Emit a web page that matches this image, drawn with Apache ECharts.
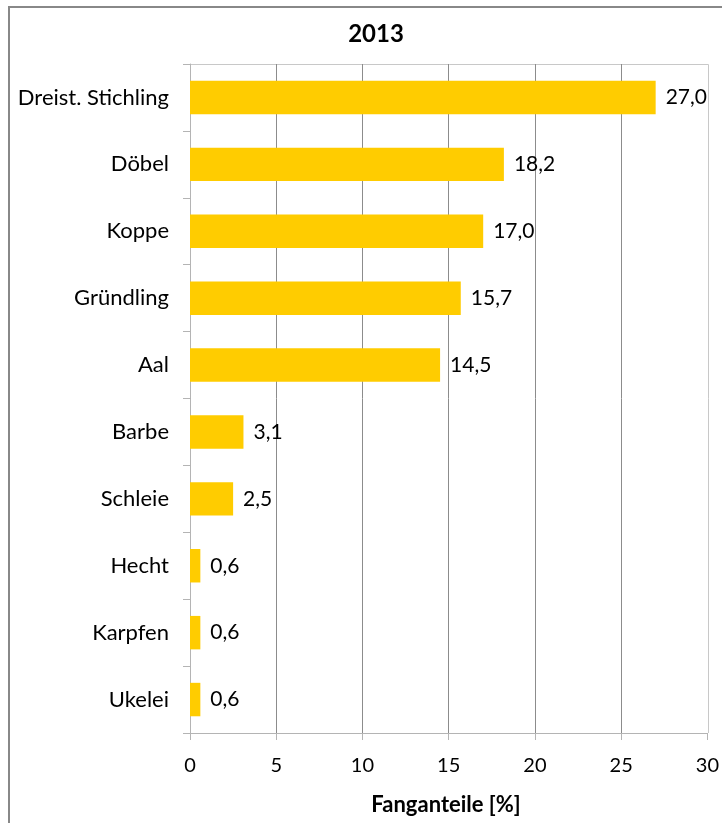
<!DOCTYPE html>
<html>
<head>
<meta charset="utf-8">
<script src="https://cdn.jsdelivr.net/npm/echarts@6/dist/echarts.min.js"></script>
<style>
  html, body { margin: 0; padding: 0; background: #ffffff; }
  #chart { width: 722px; height: 823px; }
</style>
</head>
<body>
<div id="chart"></div>
<script>
// Fish species and their share of the catch in 2013 (percent)
const categories = ['Dreist. Stichling', 'Döbel', 'Koppe', 'Gründling', 'Aal', 'Barbe', 'Schleie', 'Hecht', 'Karpfen', 'Ukelei'];
const shares = [27.0, 18.2, 17.0, 15.7, 14.5, 3.1, 2.5, 0.6, 0.6, 0.6];
const xTicks = [0, 5, 10, 15, 20, 25, 30];

const fontFamily = 'Lato, "Open Sans", sans-serif';
const chart = echarts.init(document.getElementById('chart'), null, { renderer: 'canvas' });

chart.setOption({
  backgroundColor: '#ffffff',
  animation: false,
  title: {
    text: '2013',
    left: 371,
    top: 17,
    textAlign: 'center',
    textStyle: { fontFamily, fontSize: 24, fontWeight: 'bold', color: '#000000' }
  },
  graphic: [{
    // outer frame
    type: 'rect',
    shape: { x: 9, y: 7, width: 740, height: 840 },
    style: { fill: 'none', stroke: '#888888', lineWidth: 2 },
    silent: true
  }, {
    // plot area border (top and right)
    type: 'polyline',
    shape: { points: [[190, 64.5], [708.5, 64.5], [708.5, 733]] },
    style: { fill: 'none', stroke: '#c8c8c8', lineWidth: 1 },
    silent: true
  }, {
    type: 'text',
    x: 446,
    y: 805,
    style: {
      text: 'Fanganteile [%]',
      font: 'bold 22px ' + fontFamily,
      fill: '#000000',
      align: 'center',
      verticalAlign: 'middle'
    },
    silent: true
  }],
  grid: { left: 190, right: 14, top: 64, bottom: 90, containLabel: false },
  xAxis: {
    type: 'value',
    min: xTicks[0],
    max: xTicks[xTicks.length - 1],
    interval: 5,
    axisLine: { show: true, lineStyle: { color: '#b4b4b4', width: 1 } },
    axisTick: { show: true, length: 7, lineStyle: { color: '#b4b4b4' } },
    axisLabel: { fontFamily, fontSize: 20, color: '#000000', margin: 23 },
    splitLine: {
      show: true,
      lineStyle: { color: ['#8c8c8c', '#8c8c8c', '#8c8c8c', '#8c8c8c', '#8c8c8c', '#8c8c8c', 'rgba(0,0,0,0)'], width: 1 }
    }
  },
  yAxis: {
    type: 'category',
    data: categories,
    inverse: true,
    axisLine: { show: true, lineStyle: { color: '#b4b4b4', width: 1 } },
    axisTick: { show: true, length: 7, alignWithLabel: false, lineStyle: { color: '#b4b4b4' } },
    axisLabel: { fontFamily, fontSize: 22, color: '#000000', margin: 21 },
    splitLine: { show: false }
  },
  series: [{
    type: 'bar',
    data: shares,
    barCategoryGap: '50%',
    itemStyle: { color: '#FFCC00' },
    label: {
      show: true,
      position: 'right',
      distance: 10,
      fontFamily,
      fontSize: 21,
      color: '#000000',
      formatter: p => p.value.toFixed(1).replace('.', ',')
    }
  }]
});
</script>
</body>
</html>
